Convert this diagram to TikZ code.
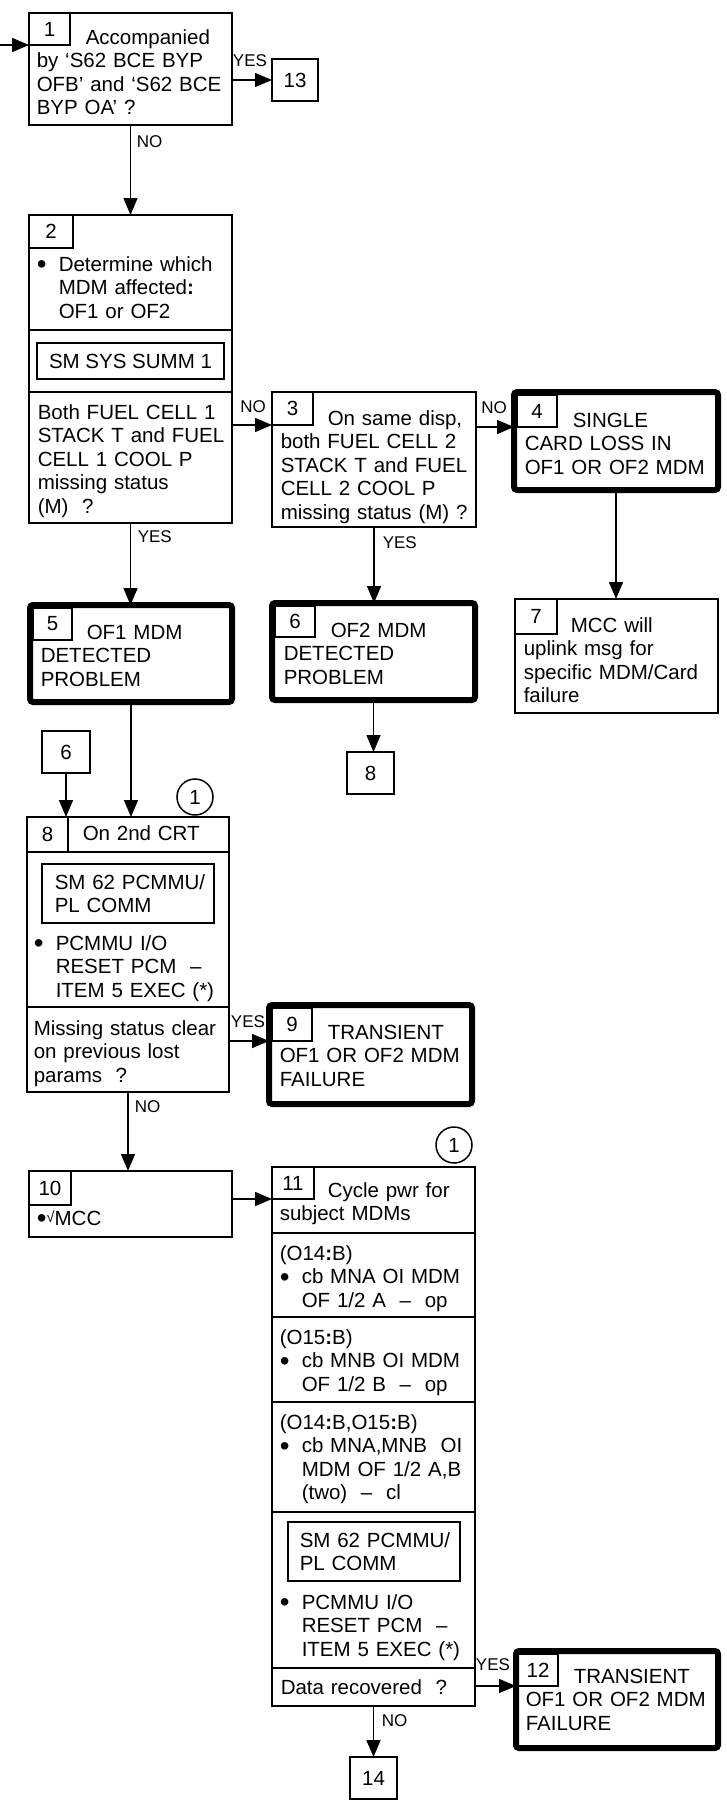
\documentclass[tikz,border=0pt]{standalone}
\usepackage{fontspec}
\usepackage{graphicx}
\setmainfont{Liberation Sans}
\usetikzlibrary{arrows.meta}
\usetikzlibrary{positioning}

\newcommand{\bigdot}{\raisebox{-2.5pt}{\scalebox{1.35}{\textbullet}}}
\newcommand{\bul}{\makebox[22pt][l]{\bigdot}}
\newcommand{\ind}{\hspace*{22pt}}

\begin{document}
\begin{tikzpicture}[x=1pt, y=-1pt, line width=1.5pt,
      font=\fontsize{20.5}{23.6}\selectfont,
      box/.style={draw, anchor=north west, inner sep=0pt, outer sep=0pt},
      heavybox/.style={draw, line width=6pt, rounded corners=3pt, anchor=north west, inner sep=0pt, outer sep=0pt},
      numbox/.style={draw, anchor=north west, inner sep=0pt, outer sep=0pt},
      refbox/.style={draw, anchor=north west, inner sep=0pt, outer sep=0pt, minimum width=47pt, minimum height=42pt},
      txt/.style={anchor=base west, inner sep=0pt, text width=300pt, align=left},
      lbl/.style={inner sep=0pt, font=\fontsize{17}{20}\selectfont},
      arr/.style={-{Triangle[length=17pt, width=14pt]}},
      ring/.style={draw, circle, inner sep=0pt, minimum size=36pt}
    ]
    \useasboundingbox (0,0) rectangle (727,1807);

    % step 1
    \coordinate (in) at (0,45);
    \node [box, minimum width=203pt, minimum height=112pt] (b1) at (29,13) {};
    \node [numbox, minimum width=41pt, minimum height=32pt] (n1) at (29,13) {1};
    \node [txt] (t1) at (36,44) {\hspace*{49pt}Accompanied\\by ‘S62 BCE BYP\\OFB’ and ‘S62 BCE\\BYP OA’ ?};
    \node [refbox, minimum width=46pt] (r13) at (272,59) {13};

    % step 2
    \node [box, minimum width=203pt, minimum height=308pt] (b2) at (29,215) {};
    \node [numbox, minimum width=44pt, minimum height=33pt] (n2) at (29,215) {2};
    \node [txt] (t2a) at (36,271) {\bul Determine which\\\ind MDM affected\textbf{:}\\\ind OF1 or OF2};
    \draw (29,330) -- (232,330);
    \node [box, minimum width=187pt, minimum height=36pt] (d2) at (37,343) {SM SYS SUMM 1};
    \draw (29,392) -- (232,392);
    \node [txt] (t2b) at (37,419) {Both FUEL CELL 1\\STACK T and FUEL\\CELL 1 COOL P\\missing status\\(M)~~?};

    % step 3
    \node [box, minimum width=204pt, minimum height=135pt] (b3) at (272,392) {};
    \node [numbox, minimum width=41pt, minimum height=33pt] (n3) at (272,392) {3};
    \node [txt] (t3) at (280,425) {\hspace*{47pt}On same disp,\\both FUEL CELL 2\\STACK T and FUEL\\CELL 2 COOL P\\missing status (M) ?};

    % step 4
    \node [heavybox, minimum width=204pt, minimum height=98pt] (b4) at (514,392) {};
    \node [numbox, minimum width=40pt, minimum height=32pt] (n4) at (517,395) {4};
    \node [txt] (t4) at (524,427) {\hspace*{48pt}SINGLE\\CARD LOSS IN\\OF1 OR OF2 MDM};

    % steps 5, 6, 7
    \node [heavybox, minimum width=202pt, minimum height=97pt] (b5) at (30,605) {};
    \node [numbox, minimum width=39pt, minimum height=32pt] (n5) at (33,608) {5};
    \node [txt] (t5) at (40,639) {\hspace*{46pt}OF1 MDM\\DETECTED\\PROBLEM};

    \node [heavybox, minimum width=203pt, minimum height=97pt] (b6) at (272,603) {};
    \node [numbox, minimum width=40pt, minimum height=31pt] (n6) at (275,606) {6};
    \node [txt] (t6) at (283,637) {\hspace*{47pt}OF2 MDM\\DETECTED\\PROBLEM};

    \node [box, minimum width=203pt, minimum height=114pt] (b7) at (515,599) {};
    \node [numbox, minimum width=42pt, minimum height=35pt] (n7) at (515,599) {7};
    \node [txt] (t7) at (523,632) {\hspace*{47pt}MCC will\\uplink msg for\\specific MDM/Card\\failure};

    \node [refbox, minimum width=48pt] (r6) at (42,731) {6};
    \node [refbox] (r8) at (347,752) {8};

    % step 8
    \node [ring] (c1) at (195,797) {1};
    \node [box, minimum width=202pt, minimum height=275pt] (b8) at (27,817) {};
    \node [numbox, minimum width=41pt, minimum height=35pt] (n8) at (27,817) {8};
    \draw (b8.west |- n8.south) -- (b8.east |- n8.south);
    \node [txt] (t8a) at (82,840) {On 2nd CRT};
    \node [box, minimum width=172pt, minimum height=59pt] (d8) at (42,864) {};
    \node [txt] (t8d) at (54,889) {SM 62 PCMMU/\\PL COMM};
    \node [txt] (t8b) at (33,950) {\bul PCMMU I/O\\\ind RESET PCM~~–\\\ind ITEM 5 EXEC (*)};
    \draw (27,1007) -- (229,1007);
    \node [txt] (t8c) at (33,1035) {Missing status clear\\on previous lost\\params~~?};

    % step 9
    \node [heavybox, minimum width=203pt, minimum height=99pt] (b9) at (269,1005) {};
    \node [numbox, minimum width=40pt, minimum height=33pt] (n9) at (272,1008) {9};
    \node [txt] (t9) at (279,1039) {\hspace*{48pt}TRANSIENT\\OF1 OR OF2 MDM\\FAILURE};

    % step 10
    \node [box, minimum width=203pt, minimum height=66pt] (b10) at (29,1171) {};
    \node [numbox, minimum width=42pt, minimum height=34pt] (n10) at (29,1171) {10};
    \node [txt] (t10) at (36,1225) {\bigdot\raisebox{3pt}{\fontsize{15}{15}\selectfont √}MCC};

    % step 11
    \node [ring] (c2) at (454,1145) {1};
    \node [box, minimum width=203pt, minimum height=539pt] (b11) at (272,1167) {};
    \node [numbox, minimum width=42pt, minimum height=32pt] (n11) at (272,1167) {11};
    \node [txt] (t11a) at (279,1197) {\hspace*{48pt}Cycle pwr for\\subject MDMs};
    \draw (272,1233) -- (475,1233);
    \node [txt] (t11b) at (279,1260) {(O14\textbf{:}B)\\\bul cb MNA OI MDM\\\ind OF 1/2 A~~–~~op};
    \draw (272,1317) -- (475,1317);
    \node [txt] (t11c) at (279,1344) {(O15\textbf{:}B)\\\bul cb MNB OI MDM\\\ind OF 1/2 B~~–~~op};
    \draw (272,1402) -- (475,1402);
    \node [txt] (t11d) at (279,1429) {(O14\textbf{:}B,O15\textbf{:}B)\\\bul cb MNA,MNB~~OI\\\ind MDM OF 1/2 A,B\\\ind (two)~~–~~cl};
    \draw (272,1512) -- (475,1512);
    \node [box, minimum width=172pt, minimum height=59pt] (d11) at (288,1522) {};
    \node [txt] (t11g) at (299,1547) {SM 62 PCMMU/\\PL COMM};
    \node [txt] (t11e) at (279,1609) {\bul PCMMU I/O\\\ind RESET PCM~~–\\\ind ITEM 5 EXEC (*)};
    \draw (272,1668) -- (475,1668);
    \node [txt] (t11f) at (280,1694) {Data recovered~~?};

    % step 12
    \node [heavybox, minimum width=202pt, minimum height=97pt] (b12) at (516,1651) {};
    \node [numbox, minimum width=40pt, minimum height=32pt] (n12) at (518,1654) {12};
    \node [txt] (t12) at (525,1683) {\hspace*{48pt}TRANSIENT\\OF1 OR OF2 MDM\\FAILURE};

    \node [refbox] (r14) at (350,1757) {14};

    % connectors
    \draw [arr] (in) -- (n1.south west);
    \draw [arr] (b1.east |- r13.west) -- (r13.west);
    \draw [arr] (b1.south) -- (b1.south |- b2.north);
    \draw [arr] (b2.east |- n3.south) -- (n3.south west);
    \draw [arr] (b3.east |- n4.south) -- (b4.west |- n4.south);
    \draw [arr] (b2.south) -- (b2.south |- b5.north);
    \draw [arr] (b3.south) -- (b3.south |- b6.north);
    \draw [arr] (b4.south) -- (b4.south |- b7.north);
    \draw [arr] (b6.south) -- (b6.south |- r8.north);
    \draw [arr] (r6.south) -- (r6.south |- b8.north);
    \draw [arr] (b5.south) -- (b5.south |- b8.north);
    \draw [arr] (b8.east |- n9.south) -- (b9.west |- n9.south);
    \draw [arr] (b8.south) -- (b8.south |- b10.north);
    \draw [arr] (b10.east |- n11.south) -- (n11.south west);
    \draw [arr] (b11.east |- n12.south) -- (b12.west |- n12.south);
    \draw [arr] (b11.south) -- (b11.south |- r14.north);

    % labels
    \node [lbl] (l1) at (250,61) {YES};
    \node [lbl, anchor=west] (l2) at (136,142) {NO};
    \node [lbl, anchor=west] (l3) at (137,537) {YES};
    \node [lbl] (l4) at (253,407) {NO};
    \node [lbl] (l5) at (494,408) {NO};
    \node [lbl, anchor=west] (l6) at (382,543) {YES};
    \node [lbl] (l7) at (248,1022) {YES};
    \node [lbl, anchor=west] (l8) at (134,1107) {NO};
    \node [lbl] (l9) at (493,1665) {YES};
    \node [lbl, anchor=west] (l10) at (381,1721) {NO};
\end{tikzpicture}
\end{document}
